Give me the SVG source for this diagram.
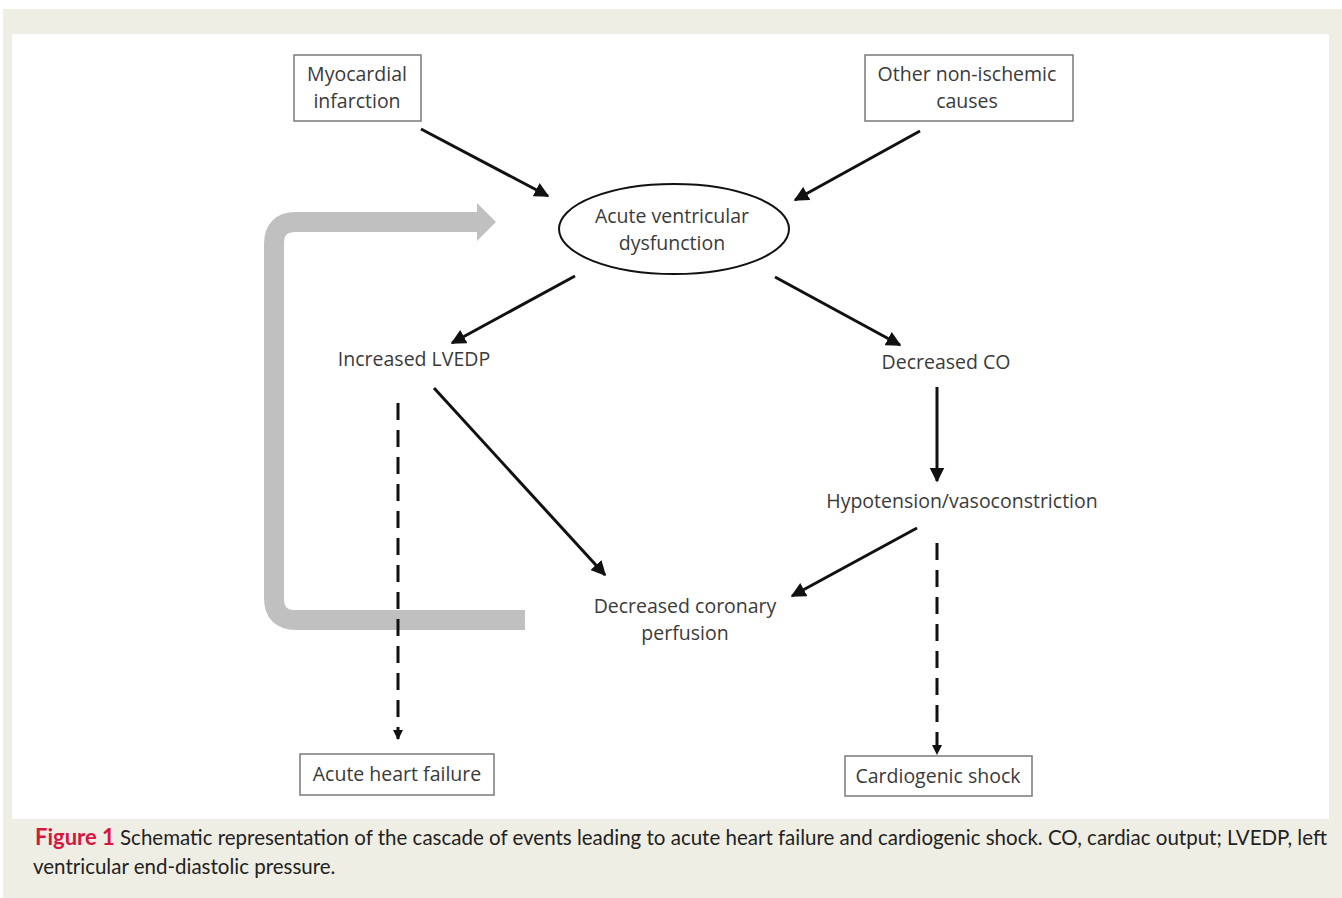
<svg xmlns="http://www.w3.org/2000/svg" width="1342" height="898" viewBox="0 0 1342 898">
<defs>
<style>
.lbl{font-family:"Open Sans","Liberation Sans",sans-serif;font-size:19.5px;fill:#3a3a3a;text-anchor:middle}
.box{fill:#fff;stroke:#7a7a7a;stroke-width:1.5}
.ar{stroke:#111;stroke-width:3;fill:none;marker-end:url(#ah)}
.da{stroke:#111;stroke-width:3;fill:none;stroke-dasharray:17 10;marker-end:url(#ah2)}
.cap{font-family:"Lato","Liberation Sans",sans-serif;font-size:20.5px;fill:#222}
</style>
<marker id="ah" viewBox="0 0 10 10" refX="9" refY="5" markerWidth="5" markerHeight="5" orient="auto" markerUnits="strokeWidth"><path d="M0,0 L10,5 L0,10 Z" fill="#111"/></marker>
<marker id="ah2" viewBox="0 0 10 10" refX="9" refY="5" markerWidth="3.5" markerHeight="3.5" orient="auto" markerUnits="strokeWidth"><path d="M0,0 L10,5 L0,10 Z" fill="#111"/></marker>
</defs>
<rect x="0" y="0" width="1342" height="898" fill="#fff"/>
<rect x="3" y="9" width="1339" height="889" fill="#efeee4"/>
<rect x="12" y="34" width="1317" height="785" fill="#fff"/>

<g id="feedback">
<path d="M525 620 H296 Q274 620 274 598 V244 Q274 222 296 222 H478" fill="none" stroke="#c0c0c0" stroke-width="20"/>
<polygon points="477,203 496,222 477,241" fill="#c0c0c0"/>
</g>

<g id="connectors">
<line class="ar" x1="421" y1="129" x2="548" y2="196"/>
<line class="ar" x1="920" y1="131" x2="795" y2="200"/>
<line class="ar" x1="575" y1="276" x2="452" y2="343"/>
<line class="ar" x1="775" y1="277" x2="900" y2="345"/>
<line class="ar" x1="937" y1="387" x2="937" y2="481"/>
<line class="ar" x1="434" y1="388" x2="605" y2="575"/>
<line class="ar" x1="917" y1="528" x2="792" y2="596"/>
<line class="da" x1="398" y1="403" x2="398" y2="739"/>
<line class="da" x1="937" y1="543" x2="937" y2="754"/>
</g>

<g id="n-mi">
<rect class="box" x="294" y="55" width="127" height="66"/>
<text class="lbl" x="357" y="81">Myocardial</text>
<text class="lbl" x="357" y="108">infarction</text>
</g>
<g id="n-other">
<rect class="box" x="865" y="55" width="208" height="66"/>
<text class="lbl" x="967" y="81">Other non-ischemic</text>
<text class="lbl" x="967" y="108">causes</text>
</g>
<g id="n-avd">
<ellipse cx="674" cy="229" rx="115" ry="45" fill="#fff" stroke="#111" stroke-width="2"/>
<text class="lbl" x="672" y="223">Acute ventricular</text>
<text class="lbl" x="672" y="250">dysfunction</text>
</g>
<g id="n-lvedp">
<text class="lbl" x="414" y="366">Increased LVEDP</text>
</g>
<g id="n-co">
<text class="lbl" x="946" y="369">Decreased CO</text>
</g>
<g id="n-hypo">
<text class="lbl" x="962" y="508">Hypotension/vasoconstriction</text>
</g>
<g id="n-dcp">
<text class="lbl" x="685" y="613">Decreased coronary</text>
<text class="lbl" x="685" y="640">perfusion</text>
</g>
<g id="n-ahf">
<rect class="box" x="300" y="754" width="194" height="41"/>
<text class="lbl" x="397" y="781">Acute heart failure</text>
</g>
<g id="n-cs">
<rect class="box" x="845" y="756" width="187" height="40"/>
<text class="lbl" x="938" y="783">Cardiogenic shock</text>
</g>

<g id="caption">
<text class="cap" x="35" y="845"><tspan fill="#d6163f" font-weight="bold" font-size="22">Figure 1</tspan>  Schematic representation of the cascade of events leading to acute heart failure and cardiogenic shock. CO, cardiac output; LVEDP, left</text>
<text class="cap" x="33" y="874">ventricular end-diastolic pressure.</text>
</g>
</svg>
